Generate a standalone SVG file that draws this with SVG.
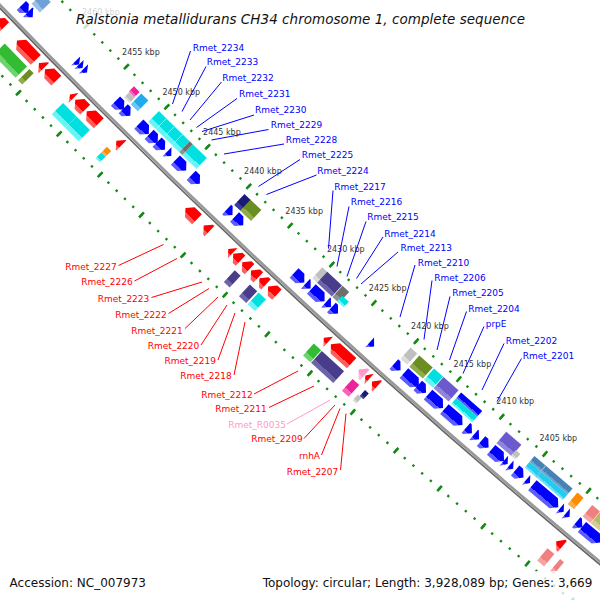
<svg xmlns="http://www.w3.org/2000/svg" xmlns:xlink="http://www.w3.org/1999/xlink" width="600" height="600" viewBox="0 0 600 600">
<style>
text{font-family:"DejaVu Sans","Liberation Sans",sans-serif}
.tk{font-size:8px;fill:#333;text-anchor:middle}
.lb{font-size:9px;fill:#0000ff}
.lr{font-size:9px;fill:#ff0000;text-anchor:end}
.lp{font-size:9px;fill:#ff99cc;text-anchor:end}
.cb line{stroke:#0000ff;stroke-width:1}
.cr line{stroke:#ff0000;stroke-width:1}
.bl{fill:url(#gBl)}.rd{fill:url(#gRd)}.cy{fill:url(#gCy)}.lg{fill:url(#gLg)}.dg{fill:url(#gDg)}
.mg{fill:url(#gMg)}.lbx{fill:url(#gLb)}.nv{fill:url(#gNv)}.ol{fill:url(#gOl)}.ds{fill:url(#gDs)}
.sb{fill:url(#gSb)}.st{fill:url(#gSt)}.dk{fill:url(#gDk)}.or{fill:url(#gOr)}.lc{fill:url(#gLc)}
.kh{fill:url(#gKh)}.gr{fill:url(#gGr)}.pk{fill:url(#gPk)}.ls{fill:url(#gLs)}
</style>
<defs>
<linearGradient id="gBl"><stop offset=".7" stop-color="#0000ff"/><stop offset=".7" stop-color="#5c5cff"/></linearGradient>
<linearGradient id="gRd"><stop offset=".7" stop-color="#ff0000"/><stop offset=".7" stop-color="#ff5c5c"/></linearGradient>
<linearGradient id="gCy"><stop offset=".7" stop-color="#00e0e0"/><stop offset=".7" stop-color="#66f4f4"/></linearGradient>
<linearGradient id="gLg"><stop offset=".7" stop-color="#c0c0c0"/><stop offset=".7" stop-color="#dcdcdc"/></linearGradient>
<linearGradient id="gDg"><stop offset=".7" stop-color="#6e6e6e"/><stop offset=".7" stop-color="#909090"/></linearGradient>
<linearGradient id="gMg"><stop offset=".7" stop-color="#ee2299"/><stop offset=".7" stop-color="#f566b8"/></linearGradient>
<linearGradient id="gLb"><stop offset=".7" stop-color="#22aaee"/><stop offset=".7" stop-color="#66c8f4"/></linearGradient>
<linearGradient id="gNv"><stop offset=".7" stop-color="#1a1a78"/><stop offset=".7" stop-color="#3c3c96"/></linearGradient>
<linearGradient id="gOl"><stop offset=".7" stop-color="#6b8e23"/><stop offset=".7" stop-color="#8eac4c"/></linearGradient>
<linearGradient id="gDs"><stop offset=".7" stop-color="#483d8b"/><stop offset=".7" stop-color="#6c63a8"/></linearGradient>
<linearGradient id="gSb"><stop offset=".7" stop-color="#6a5acd"/><stop offset=".7" stop-color="#9084dc"/></linearGradient>
<linearGradient id="gSt"><stop offset=".7" stop-color="#4682b4"/><stop offset=".7" stop-color="#6ea0cc"/></linearGradient>
<linearGradient id="gDk"><stop offset=".7" stop-color="#22ccf0"/><stop offset=".7" stop-color="#70e0f8"/></linearGradient>
<linearGradient id="gOr"><stop offset=".7" stop-color="#ff8c00"/><stop offset=".7" stop-color="#ffaa44"/></linearGradient>
<linearGradient id="gLc"><stop offset=".7" stop-color="#f08080"/><stop offset=".7" stop-color="#f4a4a4"/></linearGradient>
<linearGradient id="gKh"><stop offset=".7" stop-color="#bdb76b"/><stop offset=".7" stop-color="#d2cd92"/></linearGradient>
<linearGradient id="gGr"><stop offset=".7" stop-color="#33bb33"/><stop offset=".7" stop-color="#6cd46c"/></linearGradient>
<linearGradient id="gPk"><stop offset=".7" stop-color="#ff99cc"/><stop offset=".7" stop-color="#ffbbdd"/></linearGradient>
<linearGradient id="gLs"><stop offset=".7" stop-color="#6fa0d8"/><stop offset=".7" stop-color="#9cc0e6"/></linearGradient>
<path id="bA5" d="M-22,2.5H-9L-15.5,-2.5Z"/>
<path id="bA6" d="M-22,3H-9L-15.5,-3Z"/>
<path id="bA7" d="M-22,3.5H-9V2.5L-15.5,-3.5L-22,2.5Z"/>
<path id="bA8" d="M-22,4H-9V2L-15.5,-4L-22,2Z"/>
<path id="bA9" d="M-22,4.5H-9V1.5L-15.5,-4.5L-22,1.5Z"/>
<path id="bA10" d="M-22,5H-9V1L-15.5,-5L-22,1Z"/>
<path id="bA11" d="M-22,5.5H-9V0.5L-15.5,-5.5L-22,0.5Z"/>
<path id="bA12" d="M-22,6H-9V0L-15.5,-6L-22,0Z"/>
<path id="bA14" d="M-22,7H-9V-1L-15.5,-7L-22,-1Z"/>
<path id="bA15" d="M-22,7.5H-9V-1.5L-15.5,-7.5L-22,-1.5Z"/>
<path id="bA17" d="M-22,8.5H-9V-2.5L-15.5,-8.5L-22,-2.5Z"/>
<path id="bA18" d="M-22,9H-9V-3L-15.5,-9L-22,-3Z"/>
<path id="bA20" d="M-22,10H-9V-4L-15.5,-10L-22,-4Z"/>
<path id="bA24" d="M-22,12H-9V-6L-15.5,-12L-22,-6Z"/>
<path id="bA34" d="M-22,17H-9V-11L-15.5,-17L-22,-11Z"/>
<path id="rC5" d="M5,-2.5H19L12,2.5Z"/>
<path id="rC6" d="M5,-3H19L12,3Z"/>
<path id="rC7" d="M5,-3.5H19V-2.5L12,3.5L5,-2.5Z"/>
<path id="rC8" d="M5,-4H19V-2L12,4L5,-2Z"/>
<path id="rC9" d="M5,-4.5H19V-1.5L12,4.5L5,-1.5Z"/>
<path id="rC10" d="M5,-5H19V-1L12,5L5,-1Z"/>
<path id="rC12" d="M5,-6H19V0L12,6L5,0Z"/>
<path id="rC14" d="M5,-7H19V1L12,7L5,1Z"/>
<path id="rC16" d="M5,-8H19V2L12,8L5,2Z"/>
<path id="rC17" d="M5,-8.5H19V2.5L12,8.5L5,2.5Z"/>
<path id="rC27" d="M5,-13.5H19V7.5L12,13.5L5,7.5Z"/>
<path id="rC28" d="M5,-14H19V8L12,14L5,8Z"/>
</defs>
<rect width="600" height="600" fill="#fff"/>
<g transform="translate(5215,-5015)">
<g id="ticks" fill="none" stroke="#138a13">
<circle r="7191.5" pathLength="3960.97" stroke-width="2.4" stroke-dasharray="0.2 0.8" stroke-dashoffset="0.31"/>
<circle r="7191.5" pathLength="3960.97" stroke-width="7" stroke-dasharray="0.22 4.78" stroke-dashoffset="4.32"/>
<circle r="7286.5" pathLength="3960.97" stroke-width="2.4" stroke-dasharray="0.2 0.8" stroke-dashoffset="0.31"/>
<circle r="7286.5" pathLength="3960.97" stroke-width="7" stroke-dasharray="0.22 4.78" stroke-dashoffset="4.32"/>
</g>
<g id="backbone" fill="none">
<circle r="7238.5" stroke="#999" stroke-width="2.6"/>
<circle r="7240.8" stroke="#666" stroke-width="1.6"/>
</g>
<g id="features">
<use id="a1" href="#bA10" class="bl" transform="rotate(135.931) translate(7239)"/>
<use id="a2" href="#bA7" class="bl" transform="rotate(135.870) translate(7239)"/>
<use id="a3" href="#bA5" class="bl" transform="rotate(135.336) translate(7239)"/>
<use id="a4" href="#bA5" class="bl" transform="rotate(135.297) translate(7239)"/>
<use id="a5" href="#bA5" class="bl" transform="rotate(135.247) translate(7239)"/>
<use id="a6" href="#bA12" class="bl" transform="rotate(134.860) translate(7239)"/>
<use id="a7" href="#bA10" class="bl" transform="rotate(134.781) translate(7239)"/>
<use id="a8" href="#bA14" class="bl" transform="rotate(134.591) translate(7239)"/>
<use id="a9" href="#bA12" class="bl" transform="rotate(134.484) translate(7239)"/>
<use id="a10" href="#bA11" class="bl" transform="rotate(134.400) translate(7239)"/>
<use id="a11" href="#bA6" class="bl" transform="rotate(134.310) translate(7239)"/>
<use id="a12" href="#bA15" class="bl" transform="rotate(134.181) translate(7239)"/>
<use id="a13" href="#bA12" class="bl" transform="rotate(134.018) translate(7239)"/>
<use id="a14" href="#bA8" class="bl" transform="rotate(133.643) translate(7239)"/>
<use id="a15" href="#bA12" class="bl" transform="rotate(133.541) translate(7239)"/>
<use id="a16" href="#bA14" class="bl" transform="rotate(132.885) translate(7239)"/>
<use id="a17" href="#bA7" class="bl" transform="rotate(132.789) translate(7239)"/>
<use id="a18" href="#bA18" class="bl" transform="rotate(132.682) translate(7239)"/>
<use id="a19" href="#bA7" class="bl" transform="rotate(132.570) translate(7239)"/>
<use id="a20" href="#bA9" class="bl" transform="rotate(132.502) translate(7239)"/>
<use id="a21" href="#bA6" class="bl" transform="rotate(132.103) translate(7239)"/>
<use id="a22" href="#bA9" class="bl" transform="rotate(131.833) translate(7239)"/>
<use id="a23" href="#bA20" class="bl" transform="rotate(131.682) translate(7239)"/>
<use id="a24" href="#bA11" class="bl" transform="rotate(131.571) translate(7239)"/>
<use id="a25" href="#bA20" class="bl" transform="rotate(131.426) translate(7239)"/>
<use id="a26" href="#bA24" class="bl" transform="rotate(131.237) translate(7239)"/>
<use id="a27" href="#bA8" class="bl" transform="rotate(131.074) translate(7239)"/>
<use id="a28" href="#bA7" class="bl" transform="rotate(130.995) translate(7239)"/>
<use id="a29" href="#bA10" class="bl" transform="rotate(130.907) translate(7239)"/>
<use id="a30" href="#bA17" class="bl" transform="rotate(130.773) translate(7239)"/>
<use id="a31" href="#bA5" class="bl" transform="rotate(130.688) translate(7239)"/>
<use id="a32" href="#bA5" class="bl" transform="rotate(130.630) translate(7239)"/>
<use id="a33" href="#bA11" class="bl" transform="rotate(130.546) translate(7239)"/>
<use id="a34" href="#bA5" class="bl" transform="rotate(130.455) translate(7239)"/>
<use id="a35" href="#bA34" class="bl" transform="rotate(130.275) translate(7239)"/>
<use id="a36" href="#bA5" class="bl" transform="rotate(130.104) translate(7239)"/>
<use id="a37" href="#bA5" class="bl" transform="rotate(130.043) translate(7239)"/>
<use id="a38" href="#bA8" class="bl" transform="rotate(129.923) translate(7239)"/>
<use id="a39" href="#bA24" class="bl" transform="rotate(129.800) translate(7239)"/>

<rect id="b1" class="ls" x="-39" y="-6" width="15" height="12" transform="rotate(135.877) translate(7239)"/>
<rect id="b3" class="lg" x="-31.5" y="-4" width="7.5" height="8" transform="rotate(134.848) translate(7239)"/>
<rect id="b2" class="mg" x="-39" y="-4" width="7.5" height="8" transform="rotate(134.854) translate(7239)"/>
<rect id="b4" class="lbx" x="-39" y="-5" width="15" height="10" transform="rotate(134.764) translate(7239)"/>
<g stroke="#8ff" stroke-width="0.6">
<rect id="b5a" class="cy" x="-39" y="-5.3" width="15" height="10.6" transform="rotate(134.5644) translate(7239)"/>
<rect id="b5b" class="cy" x="-39" y="-5.65" width="15" height="11.3" transform="rotate(134.4772) translate(7239)"/>
<rect id="b5c" class="cy" x="-39" y="-5.65" width="15" height="11.3" transform="rotate(134.3873) translate(7239)"/>
<rect id="b5d" class="cy" x="-39" y="-4.95" width="15" height="9.9" transform="rotate(134.3030) translate(7239)"/>
<rect id="b5f" class="cy" x="-39" y="-9.9" width="15" height="19.8" transform="rotate(134.1511) translate(7239)"/>
</g>
<rect id="b5e" class="dg" x="-39" y="-2.15" width="15" height="4.3" transform="rotate(134.2467) translate(7239)"/>
<rect id="b6" class="nv" x="-39" y="-4.5" width="15" height="9" transform="rotate(133.622) translate(7239)"/>
<rect id="b7" class="ol" x="-39" y="-7.5" width="15" height="15" transform="rotate(133.532) translate(7239)"/>
<rect id="b8" class="lg" x="-39" y="-4.5" width="15" height="9" transform="rotate(132.772) translate(7239)"/>
<rect id="b9" class="ds" x="-39" y="-10" width="15" height="20" transform="rotate(132.674) translate(7239)"/>
<rect id="b10" class="dg" x="-39" y="-4.5" width="15" height="9" transform="rotate(132.553) translate(7239)"/>
<rect id="b11" class="cy" x="-31.5" y="-4.5" width="7.5" height="9" transform="rotate(132.502) translate(7239)"/>
<rect id="b12" class="lg" x="-39" y="-4.5" width="15" height="9" transform="rotate(131.822) translate(7239)"/>
<rect id="b13" class="ol" x="-39" y="-9" width="15" height="18" transform="rotate(131.6925) translate(7239)"/>
<rect id="b14" class="cy" x="-39" y="-6" width="15" height="12" transform="rotate(131.560) translate(7239)"/>
<rect id="b15" class="sb" x="-39" y="-10" width="15" height="20" transform="rotate(131.427) translate(7239)"/>
<rect id="b16a" class="bl" x="-39" y="-14" width="7.5" height="28" transform="rotate(131.208) translate(7239)"/>
<rect id="b16b" class="cy" x="-31.5" y="-14" width="7.5" height="28" transform="rotate(131.208) translate(7239)"/>
<rect id="b17" class="sb" x="-39" y="-10" width="15" height="20" transform="rotate(130.764) translate(7239)"/>
<rect id="b18" class="lg" x="-31.5" y="-3" width="7.5" height="6" transform="rotate(130.667) translate(7239)"/>
<rect id="b19a" class="st" x="-39" y="-25" width="7.5" height="50" transform="rotate(130.348) translate(7239)"/>
<rect id="b19b" class="dk" x="-31.5" y="-25" width="7.5" height="50" transform="rotate(130.348) translate(7239)"/>
<rect id="b19c" fill="#8fb8d8" x="-39" y="-0.6" width="15" height="1.2" transform="rotate(130.43) translate(7239)"/>
<rect id="b20" class="or" x="-39" y="-4" width="15" height="8" transform="rotate(130.067) translate(7239)"/>
<rect id="b21" class="lc" x="-39" y="-5" width="15" height="10" transform="rotate(129.905) translate(7239)"/>
<rect id="b22" class="kh" x="-39" y="-6" width="15" height="12" transform="rotate(129.814) translate(7239)"/>

<use id="c1" href="#rC12" class="rd" transform="rotate(135.990) translate(7239)"/>
<use id="c2" href="#rC27" class="rd" transform="rotate(135.690) translate(7239)"/>
<use id="c3" href="#rC7" class="rd" transform="rotate(135.520) translate(7239)"/>
<use id="c4" href="#rC16" class="rd" transform="rotate(135.416) translate(7239)"/>
<use id="c5" href="#rC5" class="rd" transform="rotate(135.179) translate(7239)"/>
<use id="c6" href="#rC14" class="rd" transform="rotate(135.084) translate(7239)"/>
<use id="c7" href="#rC17" class="rd" transform="rotate(134.944) translate(7239)"/>
<use id="c8" href="#rC7" class="rd" transform="rotate(134.654) translate(7239)"/>
<use id="c9" href="#rC16" class="rd" transform="rotate(133.855) translate(7239)"/>
<use id="c10" href="#rC8" class="rd" transform="rotate(133.687) translate(7239)"/>
<use id="c11" href="#rC6" class="rd" transform="rotate(133.427) translate(7239)"/>
<use id="c12" href="#rC10" class="rd" transform="rotate(133.357) translate(7239)"/>
<use id="c13" href="#rC10" class="rd" transform="rotate(133.259) translate(7239)"/>
<use id="c14" href="#rC10" class="rd" transform="rotate(133.164) translate(7239)"/>
<use id="c15" href="#rC9" class="rd" transform="rotate(133.077) translate(7239)"/>
<use id="c16" href="#rC12" class="rd" transform="rotate(132.971) translate(7239)"/>
<use id="c17" href="#rC6" class="rd" transform="rotate(132.396) translate(7239)"/>
<use id="c18" href="#rC28" class="rd" transform="rotate(132.233) translate(7239)"/>
<use id="c19" href="#rC8" class="pk" transform="rotate(132.015) translate(7239)"/>
<use id="c20" href="#rC5" class="rd" transform="rotate(131.956) translate(7239)"/>
<use id="c21" href="#rC7" class="rd" transform="rotate(131.878) translate(7239)"/>
<use id="c22" href="#rC8" class="rd" transform="rotate(129.947) translate(7239)"/>

<rect id="d1" class="gr" x="23" y="-16" width="16" height="32" transform="rotate(135.72) translate(7239)"/>
<rect id="d2" class="ol" x="23" y="-3" width="16" height="6" transform="rotate(135.543) translate(7239)"/>
<rect id="d3a" class="cy" x="23" y="-9.5" width="16" height="19" transform="rotate(135.114) translate(7239)"/>
<rect id="d3b" class="cy" x="23" y="-9.5" width="16" height="19" transform="rotate(134.964) translate(7239)"/>
<rect id="d4a" class="or" x="23" y="-3" width="8" height="6" transform="rotate(134.677) translate(7239)"/>
<rect id="d4b" class="cy" x="31" y="-3" width="8" height="6" transform="rotate(134.677) translate(7239)"/>
<rect id="d5" class="ds" x="23" y="-4" width="16" height="8" transform="rotate(133.266) translate(7239)"/>
<rect id="d6" class="ds" x="23" y="-5" width="16" height="10" transform="rotate(133.095) translate(7239)"/>
<rect id="d7" class="cy" x="23" y="-5" width="16" height="10" transform="rotate(133.001) translate(7239)"/>
<rect id="d8" class="gr" x="23" y="-5" width="16" height="10" transform="rotate(132.408) translate(7239)"/>
<rect id="d9" class="ds" x="23" y="-15" width="16" height="30" transform="rotate(132.243) translate(7239)"/>
<rect id="d10" class="mg" x="23" y="-4.5" width="16" height="9" transform="rotate(131.998) translate(7239)"/>
<rect id="d11a" class="nv" x="23" y="-2.5" width="8" height="5" transform="rotate(131.882) translate(7239)"/>
<rect id="d11b" class="lg" x="31" y="-2.5" width="8" height="5" transform="rotate(131.901) translate(7239)"/>
<rect id="d12" class="lc" x="23" y="-4.5" width="16" height="9" transform="rotate(129.9605) translate(7239)"/>
<rect id="d13" class="lc" x="23" y="-2.5" width="16" height="5" transform="rotate(129.846) translate(7239)"/>
</g>
<g id="tick-labels">
<text class="tk" y="3" transform="rotate(135.4934) translate(7171) rotate(-135.4934)">2460 kbp</text>
<text class="tk" y="3" transform="rotate(135.0390) translate(7171) rotate(-135.0390)">2455 kbp</text>
<text class="tk" y="3" transform="rotate(134.5845) translate(7171) rotate(-134.5845)">2450 kbp</text>
<text class="tk" y="3" transform="rotate(134.1301) translate(7171) rotate(-134.1301)">2445 kbp</text>
<text class="tk" y="3" transform="rotate(133.6757) translate(7171) rotate(-133.6757)">2440 kbp</text>
<text class="tk" y="3" transform="rotate(133.2212) translate(7171) rotate(-133.2212)">2435 kbp</text>
<text class="tk" y="3" transform="rotate(132.7668) translate(7171) rotate(-132.7668)">2430 kbp</text>
<text class="tk" y="3" transform="rotate(132.3124) translate(7171) rotate(-132.3124)">2425 kbp</text>
<text class="tk" y="3" transform="rotate(131.8579) translate(7171) rotate(-131.8579)">2420 kbp</text>
<text class="tk" y="3" transform="rotate(131.4035) translate(7171) rotate(-131.4035)">2415 kbp</text>
<text class="tk" y="3" transform="rotate(130.9491) translate(7171) rotate(-130.9491)">2410 kbp</text>
<text class="tk" y="3" transform="rotate(130.4946) translate(7171) rotate(-130.4946)">2405 kbp</text>
</g>
</g>
<g id="connectors">
<g class="cb">
<line x1="190.5" y1="51" x2="172.5" y2="104"/>
<line x1="206" y1="66.5" x2="182" y2="111.5"/>
<line x1="221.5" y1="82" x2="190" y2="120"/>
<line x1="237" y1="98.5" x2="196.5" y2="127.5"/>
<line x1="254" y1="115" x2="202" y2="131.5"/>
<line x1="268.5" y1="129.5" x2="211.5" y2="140"/>
<line x1="284" y1="144" x2="224" y2="154"/>
<line x1="300" y1="159.5" x2="258.5" y2="186.5"/>
<line x1="316.5" y1="175" x2="266.5" y2="194.5"/>
<line x1="333" y1="190.5" x2="328.5" y2="248.5"/>
<line x1="349" y1="206.5" x2="337" y2="266.5"/>
<line x1="366" y1="221.5" x2="347" y2="276.5"/>
<line x1="383" y1="237" x2="356.5" y2="278.5"/>
<line x1="398" y1="252" x2="361" y2="284"/>
<line x1="415" y1="265" x2="400" y2="317"/>
<line x1="432" y1="280.5" x2="424" y2="339.5"/>
<line x1="450" y1="296.5" x2="437" y2="350"/>
<line x1="466.5" y1="311.5" x2="449.5" y2="360"/>
<line x1="484" y1="326.5" x2="463" y2="373.5"/>
<line x1="504" y1="343.5" x2="482" y2="390"/>
<line x1="521.5" y1="358.5" x2="497" y2="401.5"/>
</g>
<g class="cr">
<line x1="118.5" y1="265.5" x2="163.5" y2="244.5"/>
<line x1="134.5" y1="281" x2="177" y2="258.5"/>
<line x1="151.5" y1="297.5" x2="202" y2="282"/>
<line x1="168.5" y1="313.5" x2="209" y2="288.5"/>
<line x1="185" y1="328.5" x2="218" y2="297"/>
<line x1="201" y1="345" x2="227" y2="305"/>
<line x1="218" y1="360" x2="235" y2="313"/>
<line x1="234" y1="375" x2="245" y2="322"/>
<line x1="254" y1="394" x2="298" y2="371"/>
<line x1="269" y1="407.5" x2="314" y2="386"/>
<line x1="287" y1="424" x2="330" y2="400" style="stroke:#ff99cc"/>
<line x1="304" y1="438.5" x2="335" y2="405"/>
<line x1="321.5" y1="455" x2="340" y2="408.5"/>
<line x1="340.5" y1="470" x2="346" y2="413.5"/>
</g>
</g>
<g id="labels">
<text class="lb" x="192.7" y="50.8">Rmet_2234</text>
<text class="lb" x="206.7" y="65.3">Rmet_2233</text>
<text class="lb" x="222.3" y="81.2">Rmet_2232</text>
<text class="lb" x="239" y="97">Rmet_2231</text>
<text class="lb" x="255" y="113">Rmet_2230</text>
<text class="lb" x="270.7" y="127.8">Rmet_2229</text>
<text class="lb" x="285.7" y="143">Rmet_2228</text>
<text class="lb" x="301.7" y="158.3">Rmet_2225</text>
<text class="lb" x="317.3" y="174.2">Rmet_2224</text>
<text class="lb" x="334.3" y="189.5">Rmet_2217</text>
<text class="lb" x="350.7" y="205">Rmet_2216</text>
<text class="lb" x="367.3" y="220">Rmet_2215</text>
<text class="lb" x="384.3" y="236.5">Rmet_2214</text>
<text class="lb" x="400.5" y="250.5">Rmet_2213</text>
<text class="lb" x="417.7" y="265.8">Rmet_2210</text>
<text class="lb" x="434.3" y="280.8">Rmet_2206</text>
<text class="lb" x="452.3" y="296.3">Rmet_2205</text>
<text class="lb" x="468.3" y="312">Rmet_2204</text>
<text class="lb" x="485.7" y="327">prpE</text>
<text class="lb" x="505.7" y="343.7">Rmet_2202</text>
<text class="lb" x="522.7" y="358.7">Rmet_2201</text>
<text class="lr" x="116.7" y="269.5">Rmet_2227</text>
<text class="lr" x="132.7" y="285.2">Rmet_2226</text>
<text class="lr" x="149.3" y="301.5">Rmet_2223</text>
<text class="lr" x="166.7" y="317.5">Rmet_2222</text>
<text class="lr" x="182.7" y="333.5">Rmet_2221</text>
<text class="lr" x="199.3" y="349">Rmet_2220</text>
<text class="lr" x="216" y="364.2">Rmet_2219</text>
<text class="lr" x="231.7" y="379.2">Rmet_2218</text>
<text class="lr" x="252.7" y="397.5">Rmet_2212</text>
<text class="lr" x="266.7" y="411.5">Rmet_2211</text>
<text class="lp" x="286" y="427.5">Rmet_R0035</text>
<text class="lr" x="302.7" y="441.5">Rmet_2209</text>
<text class="lr" x="320" y="458.5">rnhA</text>
<text class="lr" x="338.3" y="474.5">Rmet_2207</text>
</g>
<g id="legend">
<rect x="72" y="0" width="460" height="31" fill="#fff" fill-opacity="0.78"/>
<text x="76" y="24" font-size="13.5" font-style="italic" fill="#111" textLength="449" lengthAdjust="spacing">Ralstonia metallidurans CH34 chromosome 1, complete sequence</text>
<rect x="4" y="571" width="145" height="29" fill="#fff" fill-opacity="0.78"/>
<rect x="257" y="571" width="343" height="29" fill="#fff" fill-opacity="0.78"/>
<text x="9.6" y="587" font-size="12" fill="#111">Accession: NC_007973</text>
<text x="262.7" y="587" font-size="12" fill="#111" textLength="329.6" lengthAdjust="spacing">Topology: circular; Length: 3,928,089 bp; Genes: 3,669</text>
</g>
</svg>
